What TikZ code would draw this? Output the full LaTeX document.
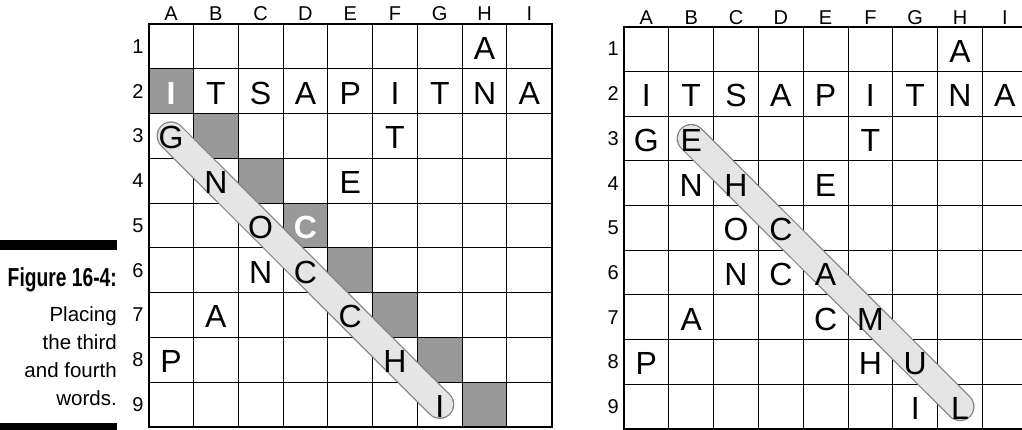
\documentclass[tikz,border=0pt]{standalone}
\usepackage{fontspec}
\setmainfont{Liberation Sans}
\newfontfamily\capfont[FakeStretch=0.74]{Liberation Sans}
\usepackage{tikz}
\usetikzlibrary{calc}
\definecolor{cellgray}{gray}{0.6}
\definecolor{bandfill}{gray}{0.9}
\definecolor{bandline}{gray}{0.5}
\tikzset{
  cellgrid/.style={line width=0.9pt},
  outerframe/.style={line width=1.7pt},
  ltr/.style={font=\fontsize{32}{32}\selectfont,anchor=base,inner sep=0pt,yshift=-13pt},
  hiltr/.style={ltr,text=white,font=\fontsize{32}{32}\selectfont\bfseries},
  collbl/.style={font=\fontsize{20}{20}\selectfont,anchor=base,inner sep=0pt},
  rowlbl/.style={font=\fontsize{20}{20}\selectfont,anchor=east,inner sep=0pt,xshift=-5pt},
  band/.style={line cap=round,line width=29pt,draw=bandline},
  bandin/.style={line cap=round,line width=26.6pt,draw=bandfill},
  capno/.style={font=\capfont\bfseries\fontsize{26}{26}\selectfont,anchor=base east,inner sep=0pt},
  captext/.style={font=\fontsize{20.5}{27.8}\selectfont,align=right,anchor=base east,inner sep=0pt},
}
\begin{document}
\begin{tikzpicture}[x=1pt,y=-1pt]
\path[use as bounding box] (0,0) rectangle (1022,430);
\clip (0,0) rectangle (1022,430);
\fill[white] (0,0) rectangle (1022,430);
% caption
\fill (0,240) rectangle (117.3,250);
\fill (0,422.7) rectangle (117.3,430);
\node[capno] (figno) at (117,286) {Figure 16-4:};
\node[captext] (figtext) at (117,405) {Placing\\the third\\and fourth\\words.};
% left grid
\begin{scope}[shift={(148.7,24)},x=44.78pt,y=-44.75pt]
\foreach \c/\r in {1/2,2/3,3/4,4/5,5/6,6/7,7/8,8/9} {\fill[cellgray] (\c-1,\r-1) rectangle (\c,\r);}
\foreach \i in {1,...,8} {\draw[cellgrid] (\i,0) -- (\i,9); \draw[cellgrid] (0,\i) -- (9,\i);}
\draw[outerframe] (0,0) rectangle (9,9);
\foreach \l [count=\c] in {A,B,C,D,E,F,G,H,I} {\node[collbl,yshift=3pt] (Lcol\c) at (\c-0.5,0) {\l};}
\foreach \r in {1,...,9} {\node[rowlbl] (Lrow\r) at (0,\r-0.5) {\r};}
\coordinate (Lstart) at (0.5,2.5);
\coordinate (Lend) at (6.5,8.5);
\draw[band] (Lstart) -- (Lend);
\draw[bandin] (Lstart) -- (Lend);
\foreach \c/\r/\t in {8/1/A,2/2/T,3/2/S,4/2/A,5/2/P,6/2/I,7/2/T,8/2/N,9/2/A,1/3/G,6/3/T,2/4/N,5/4/E,3/5/O,3/6/N,4/6/C,2/7/A,5/7/C,1/8/P,6/8/H,7/9/I}
{\node[ltr] (L\c-\r) at (\c-0.5,\r-0.5) {\t};}
\node[hiltr] (L1-2) at (0.5,1.5) {I};
\node[hiltr] (L4-5) at (3.5,4.5) {C};
\end{scope}
% right grid
\begin{scope}[shift={(624,26.7)},x=44.8pt,y=-44.7pt]
\foreach \i in {1,...,8} {\draw[cellgrid] (\i,0) -- (\i,9); \draw[cellgrid] (0,\i) -- (9,\i);}
\draw[outerframe] (0,0) rectangle (9,9);
\foreach \l [count=\c] in {A,B,C,D,E,F,G,H,I} {\node[collbl,yshift=2.5pt] (Rcol\c) at (\c-0.5,0) {\l};}
\foreach \r in {1,...,9} {\node[rowlbl] (Rrow\r) at (0,\r-0.5) {\r};}
\coordinate (Rstart) at (1.5,2.5);
\coordinate (Rend) at (7.5,8.5);
\draw[band] (Rstart) -- (Rend);
\draw[bandin] (Rstart) -- (Rend);
\foreach \c/\r/\t in {8/1/A,1/2/I,2/2/T,3/2/S,4/2/A,5/2/P,6/2/I,7/2/T,8/2/N,9/2/A,1/3/G,2/3/E,6/3/T,2/4/N,3/4/H,5/4/E,3/5/O,4/5/C,3/6/N,4/6/C,5/6/A,2/7/A,5/7/C,6/7/M,1/8/P,6/8/H,7/8/U,7/9/I,8/9/L}
{\node[ltr] (R\c-\r) at (\c-0.5,\r-0.5) {\t};}
\end{scope}
\end{tikzpicture}
\end{document}
